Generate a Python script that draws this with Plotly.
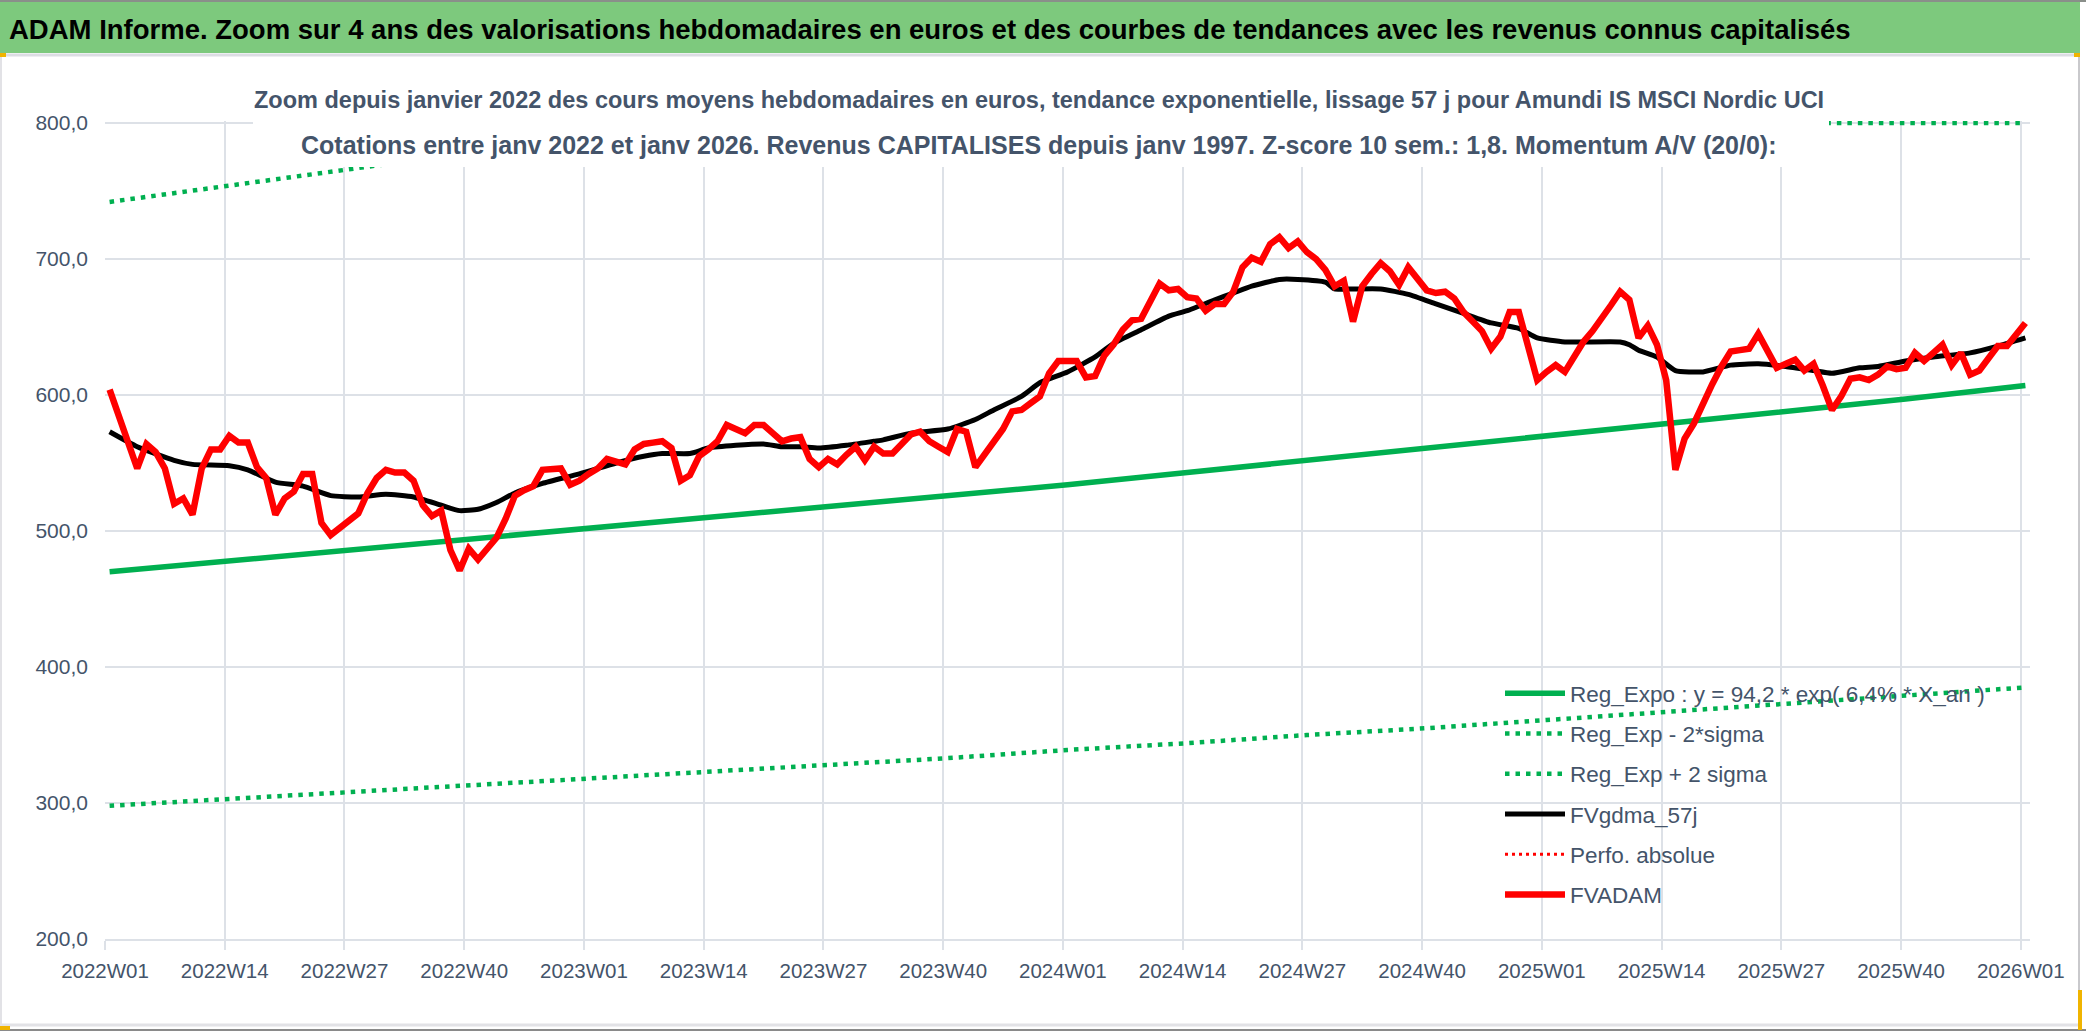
import plotly.graph_objects as go

# ---------------- data ----------------
years = [2022, 2023, 2024, 2025]
weeks = [f"{y}W{w:02d}" for y in years for w in range(1, 53)] + ["2026W01"]
x_idx = list(range(len(weeks)))

fvadam = [604, 585, 568, 546, 564, 558, 546, 520, 524, 512, 546, 560, 560, 570, 565, 565, 547, 539, 512, 524,
          529, 542, 542, 506, 497, 502, 507, 513, 528, 539, 545, 543, 543, 537, 519, 511, 515, 486, 471, 487,
          479, 487, 495, 509, 526, 530, 533, 545, 546, 546, 534, 537, 542, 546, 553, 551, 549, 560, 564, 565,
          566, 561, 537, 541, 555, 560, 566, 578, 575, 572, 578, 578, 572, 566, 568, 569, 553, 547, 553, 549,
          556, 562, 552, 562, 557, 557, 564, 571, 573, 566, 562, 558, 575, 573, 547, 557, 566, 575, 588, 589,
          594, 599, 616, 625, 625, 625, 613, 614, 629, 637, 648, 655, 656, 670, 682, 677, 678, 672, 671, 662,
          667, 667, 676, 694, 701, 698, 711, 716, 708, 713, 705, 700, 692, 680, 684, 654, 680, 689, 697, 691,
          681, 694, 685, 677, 675, 676, 671, 661, 654, 647, 634, 643, 661, 661, 636, 611, 617, 622, 617, 629,
          639, 647, 656, 666, 676, 670, 642, 651, 637, 611, 545, 568, 579, 595, 608, 621, 632, 633, 634, 645,
          633, 620, 623, 626, 618, 623, 607, 589, 599, 612, 613, 611, 615, 621, 619, 620, 631, 625, 631, 637,
          622, 631, 615, 618, 627, 636, 636, 644, 653]

gdma_weeks = [0, 3, 7, 9, 13, 15, 18, 21, 24, 27, 30, 33, 36, 38, 40, 42, 44, 47, 51, 55, 58, 60, 63, 65, 68,
              71, 73, 75, 77, 80, 83, 84, 87, 91, 94, 96, 99, 101, 104, 107, 109, 112, 115, 117, 120, 122, 124,
              127, 129, 132, 133, 135, 138, 141, 144, 147, 150, 153, 155, 158, 164, 165, 166, 168, 170, 173, 176,
              179, 182, 185, 187, 190, 192, 195, 198, 202, 205, 208]
gdma_vals = [573, 562, 552, 549, 548, 545, 536, 533, 526, 525, 527, 525, 519, 515, 516, 521, 528, 535, 542, 550,
             555, 557, 557, 561, 563, 564, 562, 562, 561, 563, 566, 567, 572, 575, 582, 589, 599, 609, 617, 628,
             638, 648, 658, 662, 670, 675, 680, 685, 685, 683, 678, 678, 678, 674, 667, 660, 653, 649, 642, 639,
             639, 637, 633, 628, 618, 617, 622, 623, 621, 618, 616, 620, 621, 625, 628, 631, 636, 642]

trend_weeks = [0, 13, 26, 39, 52, 65, 78, 91, 104, 117, 130, 143, 156, 169, 182, 195, 208]
reg_expo = [470, 478, 485, 493, 501, 509, 517, 526, 534, 543, 552, 560, 570, 579, 588, 597, 607]
reg_minus = [298, 303, 308, 313, 318, 323, 328, 333, 339, 344, 350, 355, 361, 367, 373, 379, 385]
reg_plus = [742, 754, 766, 778, 791, 800, 800, 800, 800, 800, 800, 800, 800, 800, 800, 800, 800]

tick_idx = list(range(0, 209, 13))
tick_labels = [weeks[i] for i in tick_idx]
y_ticks = [200, 300, 400, 500, 600, 700, 800]

title_txt = ("ADAM Informe. Zoom sur 4 ans des valorisations hebdomadaires en euros et des courbes de "
             "tendances avec les revenus connus capitalisés")
sub1 = ("Zoom depuis janvier 2022 des cours moyens hebdomadaires en euros, tendance exponentielle, "
        "lissage 57 j pour Amundi IS MSCI Nordic UCI")
sub2 = ("Cotations entre janv 2022 et janv 2026. Revenus CAPITALISES depuis janv 1997. "
        "Z-score 10 sem.: 1,8. Momentum A/V (20/0):")

# ---------------- styling ----------------
FONT = "Liberation Sans, Arial, sans-serif"
GREEN = "#00B050"
GRID = "#DDE1E7"
TXT = "#44546A"

W, H = 2086, 1031
L, R, T, B = 105, 56, 121, 92
PW, PH = W - L - R, H - T - B


def px(x):
    return (x - L) / PW


def py(y):
    return (H - B - y) / PH


fig = go.Figure()
fig.add_trace(go.Scatter(x=trend_weeks, y=reg_expo, mode="lines", name="Reg_Expo : y = 94,2 * exp( 6,4% * X_an )",
                         line=dict(color=GREEN, width=5.5), legendgroup="a"))
fig.add_trace(go.Scatter(x=trend_weeks, y=reg_minus, mode="lines", name="Reg_Exp - 2*sigma",
                         line=dict(color=GREEN, width=4.5, dash="4.5px,6px"), legendgroup="b"))
fig.add_trace(go.Scatter(x=trend_weeks, y=reg_plus, mode="lines", name="Reg_Exp + 2 sigma",
                         line=dict(color=GREEN, width=4.5, dash="4.5px,6px"), legendgroup="c"))
fig.add_trace(go.Scatter(x=gdma_weeks, y=gdma_vals, mode="lines", name="FVgdma_57j",
                         line=dict(color="black", width=5, shape="spline", smoothing=0.5), legendgroup="d"))
fig.add_trace(go.Scatter(x=[None], y=[None], mode="lines", name="Perfo. absolue",
                         line=dict(color="#FF0000", width=3, dash="3px,4px"), legendgroup="e"))
fig.add_trace(go.Scatter(x=x_idx, y=fvadam, mode="lines", name="FVADAM",
                         line=dict(color="#FF0000", width=6.5), legendgroup="f"))

shapes = [
    # green title band
    dict(type="rect", xref="paper", yref="paper", x0=px(0), x1=px(2080), y0=py(53), y1=py(2),
         fillcolor="#7DC97D", line_width=0, layer="above"),
    dict(type="line", xref="paper", yref="paper", x0=px(0), x1=px(2086), y0=py(1), y1=py(1),
         line=dict(color="#8A8F8A", width=2), layer="above"),
    dict(type="line", xref="paper", yref="paper", x0=px(0), x1=px(2080), y0=py(55), y1=py(55),
         line=dict(color="#DCDDE3", width=3), layer="above"),
    # chart frame
    dict(type="line", xref="paper", yref="paper", x0=px(1), x1=px(1), y0=py(55), y1=py(1026),
         line=dict(color="#E2E2E6", width=2), layer="above"),
    dict(type="line", xref="paper", yref="paper", x0=px(2079), x1=px(2079), y0=py(55), y1=py(1027),
         line=dict(color="#C9C9CC", width=2), layer="above"),
    dict(type="line", xref="paper", yref="paper", x0=px(0), x1=px(2080), y0=py(1025), y1=py(1025),
         line=dict(color="#E2E2E6", width=3), layer="above"),
    dict(type="line", xref="paper", yref="paper", x0=px(0), x1=px(2086), y0=py(1030), y1=py(1030),
         line=dict(color="#8A8A8A", width=2), layer="above"),
    # selection handles
    dict(type="rect", xref="paper", yref="paper", x0=px(0), x1=px(6), y0=py(57), y1=py(53),
         fillcolor="#F0B400", line_width=0, layer="above"),
    dict(type="rect", xref="paper", yref="paper", x0=px(2074), x1=px(2080), y0=py(57), y1=py(53),
         fillcolor="#F0B400", line_width=0, layer="above"),
    dict(type="rect", xref="paper", yref="paper", x0=px(0), x1=px(10), y0=py(1030), y1=py(1026),
         fillcolor="#F0B400", line_width=0, layer="above"),
    dict(type="rect", xref="paper", yref="paper", x0=px(2078), x1=px(2082), y0=py(1030), y1=py(990),
         fillcolor="#F0B400", line_width=0, layer="above"),
    # white box behind chart title
    dict(type="rect", xref="paper", yref="paper", x0=px(253), x1=px(1829), y0=py(167), y1=py(72),
         fillcolor="white", line_width=0, layer="above"),
]

annotations = [
    dict(text=f"<b>{title_txt}</b>", xref="paper", yref="paper", x=px(7), y=py(29), xanchor="left",
         yanchor="middle", showarrow=False, font=dict(family=FONT, size=27.5, color="black")),
    dict(text=f"<b>{sub1}</b>", xref="paper", yref="paper", x=px(1039), y=py(100), xanchor="center",
         yanchor="middle", showarrow=False, font=dict(family=FONT, size=23.5, color=TXT)),
    dict(text=f"<b>{sub2}</b>", xref="paper", yref="paper", x=px(1039), y=py(145), xanchor="center",
         yanchor="middle", showarrow=False, font=dict(family=FONT, size=25, color=TXT)),
]

fig.update_layout(
    width=W, height=H,
    margin=dict(l=L, r=R, t=T, b=B, pad=0),
    paper_bgcolor="white", plot_bgcolor="white",
    separators=", ",
    font=dict(family=FONT, color=TXT),
    showlegend=True,
    legend=dict(x=px(1500), y=py(672), xanchor="left", yanchor="top", bgcolor="rgba(0,0,0,0)",
                font=dict(family=FONT, size=22.5, color=TXT), tracegroupgap=8, itemwidth=60,
                traceorder="grouped"),
    shapes=shapes, annotations=annotations,
    xaxis=dict(range=[-0.5, 208.5], tickvals=[i - 0.5 for i in tick_idx], ticktext=tick_labels,
               showgrid=True, gridcolor=GRID, gridwidth=1.5, zeroline=False,
               showline=True, linecolor=GRID, linewidth=2,
               ticks="outside", ticklen=9, tickcolor=GRID, tickwidth=1.5,
               tickfont=dict(family=FONT, size=20.5, color=TXT), ticklabelstandoff=3),
    yaxis=dict(range=[200, 801.5], tickvals=y_ticks, tickformat=".1f",
               showgrid=True, gridcolor=GRID, gridwidth=1.5, zeroline=False, showline=False,
               ticks="", tickfont=dict(family=FONT, size=21, color=TXT), ticklabelstandoff=16),
)

fig.write_html("out.html", config={"displayModeBar": False},
               post_script="document.body.style.margin='0px';document.body.style.overflow='hidden';")
